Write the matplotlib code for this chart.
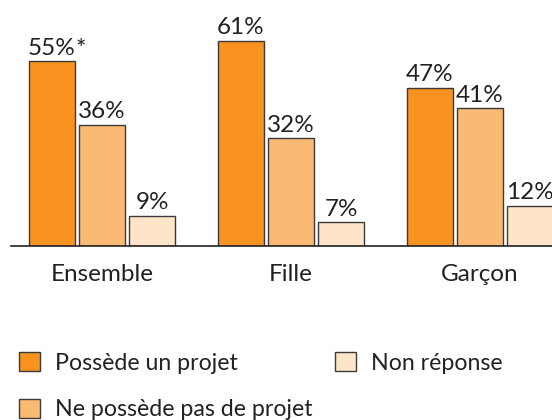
import matplotlib.pyplot as plt
from matplotlib.patches import Patch
import numpy as np

plt.rcParams['font.family'] = ['Lato', 'DejaVu Sans']

# Données
categories = ["Ensemble", "Fille", "Garçon"]
series_names = ["Possède un projet", "Ne possède pas de projet", "Non réponse"]
possede = [55, 61, 47]
ne_possede_pas = [36, 32, 41]
non_reponse = [9, 7, 12]
notes = {(0, 0): "*"}

couleurs = ["#F7931E", "#FBBA74", "#FEE4C9"]
bord = "#3a3a3a"
texte = "#222222"
taille = 17.5
taille_leg = 16.7

W, H = 552, 420
fig = plt.figure(figsize=(W / 100, H / 100), dpi=100)

# Axes qui dépassent à droite (graphique coupé comme l'original)
gauche, droite = 11, 571
base, haut = 246, 246 - 3.36 * 70
ax = fig.add_axes([gauche / W, 1 - base / H, (droite - gauche) / W, (base - haut) / H])

x = np.arange(len(categories))
largeur = 0.243
pas = 0.265
valeurs = [possede, ne_possede_pas, non_reponse]

for i, (serie, couleur) in enumerate(zip(valeurs, couleurs)):
    pos = x + (i - 1) * pas
    barres = ax.bar(pos, serie, width=largeur, color=couleur, edgecolor=bord,
                    linewidth=1.0, zorder=2)
    for j, (b, v) in enumerate(zip(barres, serie)):
        t = ax.text(b.get_x() + b.get_width() / 2, v + 0.8, f"{v}%",
                    ha="center", va="bottom", fontsize=taille, color=texte)
        if (i, j) in notes:
            ax.annotate(notes[(i, j)], xy=(1, 1), xycoords=t, ha="left", va="top",
                        fontsize=taille, color=texte)

ax.set_xlim(-0.481, 2.481)
ax.set_ylim(0, 70)
ax.set_xticks(x)
ax.set_xticklabels(categories, fontsize=taille, color=texte)
ax.tick_params(axis="x", length=0, pad=13)
ax.set_yticks([])
for s in ["top", "right", "left"]:
    ax.spines[s].set_visible(False)
ax.spines["bottom"].set_color(texte)
ax.spines["bottom"].set_linewidth(1.2)

poignees = [Patch(facecolor=c, edgecolor=bord, linewidth=1.0) for c in couleurs]
fig.legend(poignees, series_names, loc="upper left", bbox_to_anchor=(0.0054, 1 - 336 / H),
           ncol=2, frameon=False, fontsize=taille_leg, handlelength=0.9, handleheight=0.9,
           handletextpad=0.65, columnspacing=0.95, labelspacing=1.07, labelcolor=texte,
           borderpad=0.2)

fig.savefig("out.png", dpi=100)
